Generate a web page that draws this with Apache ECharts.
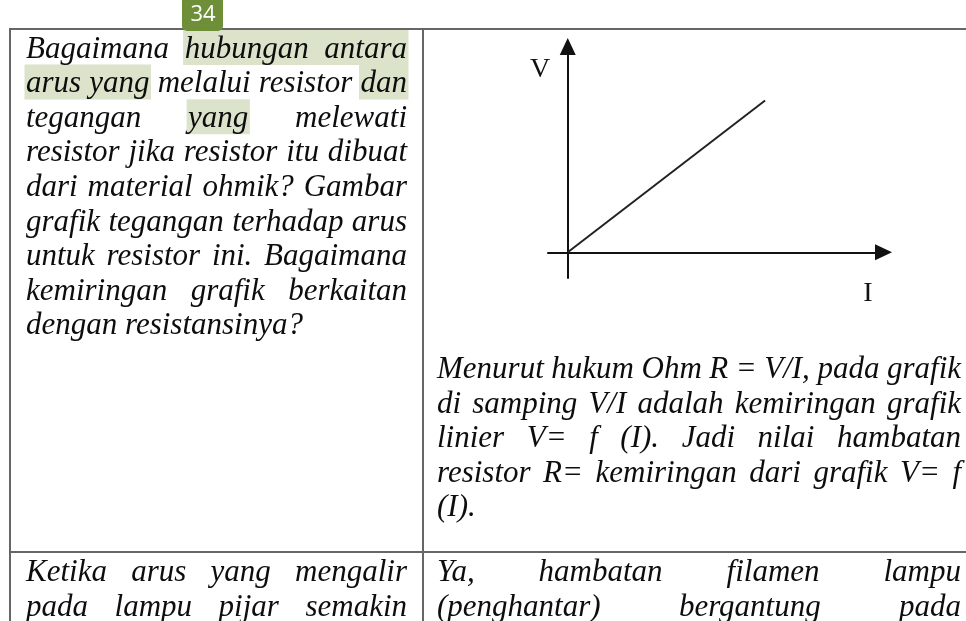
<!DOCTYPE html>
<html>
<head>
<meta charset="utf-8">
<script src="https://cdn.jsdelivr.net/npm/echarts@6/dist/echarts.min.js"></script>
<style>
html, body { margin: 0; padding: 0; background: #fff; }
#main { width: 966px; height: 621px; }
</style>
</head>
<body>
<div id="main"></div>
<script>
// V-I graph of an ohmic resistor: straight line through the origin
var current = [0, 10];
var voltage = [0, 5.9];

// table text, one entry per printed line; ^ marks a highlighted word
var questionLines = [
    'Bagaimana ^hubungan ^antara',
    '^arus ^yang melalui resistor ^dan',
    'tegangan ^yang melewati',
    'resistor jika resistor itu dibuat',
    'dari material ohmik? Gambar',
    'grafik tegangan terhadap arus',
    'untuk resistor ini. Bagaimana',
    'kemiringan grafik berkaitan',
    'dengan resistansinya?'
];
var answerLines = [
    'Menurut hukum Ohm R = V/I, pada grafik',
    'di samping V/I adalah kemiringan grafik',
    'linier V= f (I). Jadi nilai hambatan',
    'resistor R= kemiringan dari grafik V= f',
    '(I).'
];
var nextQuestionLines = [
    'Ketika arus yang mengalir',
    'pada lampu pijar semakin'
];
var nextAnswerLines = [
    'Ya, hambatan filamen lampu',
    '(penghantar) bergantung pada'
];
var pageNumber = '34';

var bodyFont = 'italic 31px "Liberation Serif", "Times New Roman", serif';
var labelFont = '28px "Liberation Serif", "Times New Roman", serif';

var ctx = document.createElement('canvas').getContext('2d');

// distance from the em middle line down to the alphabetic baseline
function baseShift(font) {
    ctx.font = font;
    ctx.textBaseline = 'alphabetic';
    var a = ctx.measureText('H').actualBoundingBoxAscent;
    ctx.textBaseline = 'middle';
    var m = ctx.measureText('H').actualBoundingBoxAscent;
    ctx.textBaseline = 'alphabetic';
    return a - m;
}

var elements = [];
var marks = [];
var bodyShift = baseShift(bodyFont);

function addBlock(lines, left, right, firstBase, lineGap, lastJustified) {
    ctx.font = bodyFont;
    var space = ctx.measureText(' ').width;
    lines.forEach(function (line, i) {
        var words = line.split(' ').map(function (w) {
            var hl = w.charAt(0) === '^';
            var t = hl ? w.slice(1) : w;
            return { t: t, hl: hl, w: ctx.measureText(t).width };
        });
        var total = 0;
        words.forEach(function (w) { total += w.w; });
        var justify = (i < lines.length - 1 || lastJustified) && words.length > 1;
        var gap = justify ? (right - left - total) / (words.length - 1) : space;
        var base = firstBase + i * lineGap;
        var x = left;
        var run = null;
        words.forEach(function (w, k) {
            elements.push({
                type: 'text', x: x, y: base - bodyShift, z: 10, silent: true,
                style: { text: w.t, font: bodyFont, fill: '#0d0d0d', align: 'left', verticalAlign: 'middle' }
            });
            if (w.hl) {
                if (run) run.end = x + w.w;
                else run = { start: x, end: x + w.w };
            }
            if ((!w.hl || k === words.length - 1) && run) {
                marks.push({ x: run.start - 1.5, y: base - 27.5, w: run.end - run.start + 3 });
                run = null;
            }
            x += w.w + gap;
        });
    });
}

addBlock(questionLines, 26, 407, 57.5, 34.6, false);
addBlock(answerLines, 437, 961, 378, 34.6, false);
addBlock(nextQuestionLines, 26, 407, 581, 34.6, true);
addBlock(nextAnswerLines, 437, 961, 581, 34.6, true);

marks.forEach(function (m) {
    elements.unshift({
        type: 'rect', z: 1, silent: true,
        shape: { x: m.x, y: m.y, width: m.w, height: 35 },
        style: { fill: '#dbe4cb' }
    });
});

// table rules
var rule = { stroke: '#666', lineWidth: 2 };
[[9, 29, 966, 29], [10, 29, 10, 621], [423, 29, 423, 621], [10, 552, 966, 552]].forEach(function (l) {
    elements.push({ type: 'line', z: 5, silent: true, shape: { x1: l[0], y1: l[1], x2: l[2], y2: l[3] }, style: rule });
});

// page badge
elements.push({
    type: 'rect', z: 20, silent: true,
    shape: { x: 182, y: -6, width: 41, height: 37, r: 5 },
    style: { fill: '#6e8f38' }
});
elements.push({
    type: 'text', x: 203, y: 15, z: 21, silent: true,
    style: { text: pageNumber, font: '22px "Open Sans", sans-serif', fill: '#fff', align: 'center', verticalAlign: 'middle' }
});

// axis letters
var labelShift = baseShift(labelFont);
elements.push({
    type: 'text', x: 540, y: 77 - labelShift, z: 10, silent: true,
    style: { text: 'V', font: labelFont, fill: '#111', align: 'center', verticalAlign: 'middle' }
});
elements.push({
    type: 'text', x: 868, y: 301 - labelShift, z: 10, silent: true,
    style: { text: 'I', font: labelFont, fill: '#111', align: 'center', verticalAlign: 'middle' }
});

var axisLine = {
    onZero: true,
    symbol: ['none', 'triangle'],
    symbolSize: [16, 17],
    lineStyle: { color: '#111', width: 2 }
};

var myChart = echarts.init(document.getElementById('main'));

option = {
    animation: false,
    backgroundColor: '#fff',
    grid: { left: 548, right: 966 - 883.5, top: 46.5, bottom: 621 - 278 },
    xAxis: {
        type: 'value', min: -1, max: 16,
        axisLine: axisLine,
        axisTick: { show: false },
        axisLabel: { show: false },
        splitLine: { show: false }
    },
    yAxis: {
        type: 'value', min: -1, max: 8,
        axisLine: axisLine,
        axisTick: { show: false },
        axisLabel: { show: false },
        splitLine: { show: false }
    },
    series: [
        {
            type: 'line',
            data: current.map(function (c, i) { return [c, voltage[i]]; }),
            symbol: 'none',
            silent: true,
            lineStyle: { color: '#222', width: 2 }
        }
    ],
    graphic: elements
};

myChart.setOption(option);
</script>
</body>
</html>
